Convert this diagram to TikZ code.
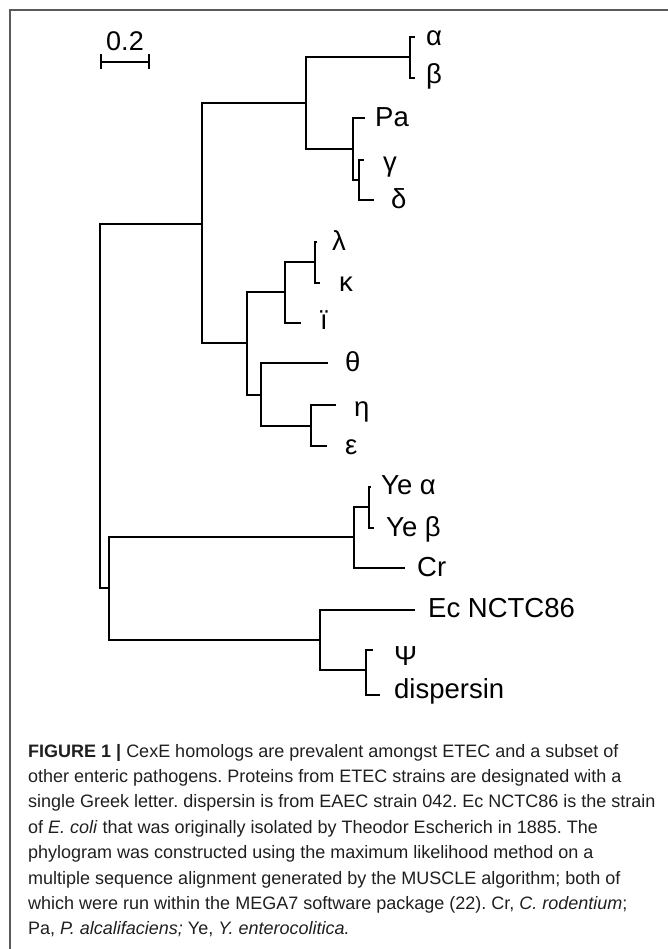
\documentclass[tikz,border=0pt]{standalone}
\usepackage{fontspec}
\setmainfont{Liberation Sans}
\newfontfamily\capfont{Liberation Sans}
\usetikzlibrary{arrows.meta}
\definecolor{framegray}{HTML}{5A5A5A}
\frenchspacing
\tikzset{
  tree/.style={line width=2pt, line join=miter, line cap=rect},
  leaf/.style={anchor=mid west, inner sep=0pt, font=\fontsize{27.5}{27.5}\selectfont},
  capline/.style={anchor=base west, inner sep=0pt, font=\capfont\fontsize{18}{20}\selectfont, text=black!88}
}
\begin{document}
\begin{tikzpicture}[x=1pt,y=-1pt]
\useasboundingbox (0,0) rectangle (668,949);
% frame
\coordinate (fb) at (10,949);
\coordinate (fc) at (10,10);
\coordinate (fr) at (668,10);
\draw[framegray, line width=1.3pt] (fb) -- (fc) -- (fr);
% scale bar
\coordinate (sbl) at (100,62);
\coordinate (sbr) at (150,62);
\draw[line width=2pt, {Bar[width=15pt]}-{Bar[width=15pt]}] (sbl) -- (sbr);
\node[inner sep=0pt, font=\fontsize{27}{27}\selectfont] (sblab) at (125,41) {0.2};
% internal nodes
\coordinate (root) at (100,406);
\coordinate (A) at (202,224);
\coordinate (A1) at (306,103);
\coordinate (ab) at (410,57);
\coordinate (A1b) at (353,149);
\coordinate (gd) at (359,180);
\coordinate (A2) at (247,343);
\coordinate (A2a) at (285,292);
\coordinate (lk) at (315,262);
\coordinate (A2b) at (261,395);
\coordinate (ee) at (311,426);
\coordinate (B) at (109,588);
\coordinate (B1) at (354,537);
\coordinate (ye) at (369,507);
\coordinate (B2) at (320,640);
\coordinate (pd) at (366,670);
% tips
\coordinate (ta) at (414,37);
\coordinate (tb) at (414,78);
\coordinate (tPa) at (364,118);
\coordinate (tg) at (363,160);
\coordinate (td) at (373,200);
\coordinate (tl) at (316,242);
\coordinate (tk) at (319,283);
\coordinate (ti) at (300,323);
\coordinate (tth) at (327,363);
\coordinate (teta) at (335,405);
\coordinate (teps) at (326,446);
\coordinate (tya) at (370,487);
\coordinate (tyb) at (373,528);
\coordinate (tCr) at (404,568);
\coordinate (tEc) at (414,610);
\coordinate (tpsi) at (372,650);
\coordinate (tdis) at (379,695);
% branches
\draw[tree] (A) -| (root) |- (B);
\draw[tree] (A1) -| (A) |- (A2);
\draw[tree] (ab) -| (A1) |- (A1b);
\draw[tree] (ta) -| (ab) |- (tb);
\draw[tree] (tPa) -| (A1b) |- (gd);
\draw[tree] (tg) -| (gd) |- (td);
\draw[tree] (A2a) -| (A2) |- (A2b);
\draw[tree] (lk) -| (A2a) |- (ti);
\draw[tree] (tl) -| (lk) |- (tk);
\draw[tree] (tth) -| (A2b) |- (ee);
\draw[tree] (teta) -| (ee) |- (teps);
\draw[tree] (B1) -| (B) |- (B2);
\draw[tree] (ye) -| (B1) |- (tCr);
\draw[tree] (tya) -| (ye) |- (tyb);
\draw[tree] (tEc) -| (B2) |- (pd);
\draw[tree] (tpsi) -| (pd) |- (tdis);
% leaf labels
\node[leaf] (la) at (426,43) {α};
\node[leaf] (lb) at (426,81) {β};
\node[leaf] (lPa) at (375,124) {Pa};
\node[leaf] (lg) at (383,169) {γ};
\node[leaf] (ld) at (391,206) {δ};
\node[leaf] (ll) at (332,248) {λ};
\node[leaf] (lk2) at (339,289) {κ};
\node[leaf] (li) at (320,327) {ï};
\node[leaf] (lth) at (345,369) {θ};
\node[leaf] (leta) at (354,414) {η};
\node[leaf] (leps) at (345,452) {ε};
\node[leaf] (lya) at (381,492) {Ye α};
\node[leaf] (lyb) at (386,534) {Ye β};
\node[leaf] (lCr) at (417,574) {Cr};
\node[leaf] (lEc) at (428,615) {Ec NCTC86};
\node[leaf] (lpsi) at (394,663) {Ψ};
\node[leaf] (ldis) at (394,696) {dispersin};
% caption
\node[capline] (c1) at (28,757) {\textbf{FIGURE 1 |} CexE homologs are prevalent amongst ETEC and a subset of};
\node[capline] (c2) at (28,782.4) {other enteric pathogens. Proteins from ETEC strains are designated with a};
\node[capline] (c3) at (28,807.8) {single Greek letter. dispersin is from EAEC strain 042. Ec NCTC86 is the strain};
\node[capline] (c4) at (28,833.2) {of \textit{E. coli} that was originally isolated by Theodor Escherich in 1885. The};
\node[capline] (c5) at (28,858.6) {phylogram was constructed using the maximum likelihood method on a};
\node[capline] (c6) at (28,884) {multiple sequence alignment generated by the MUSCLE algorithm; both of};
\node[capline] (c7) at (28,909.4) {which were run within the MEGA7 software package (22). Cr, \textit{C. rodentium};};
\node[capline] (c8) at (28,934.8) {Pa, \textit{P. alcalifaciens;} Ye, \textit{Y. enterocolitica.}};
\end{tikzpicture}
\end{document}
